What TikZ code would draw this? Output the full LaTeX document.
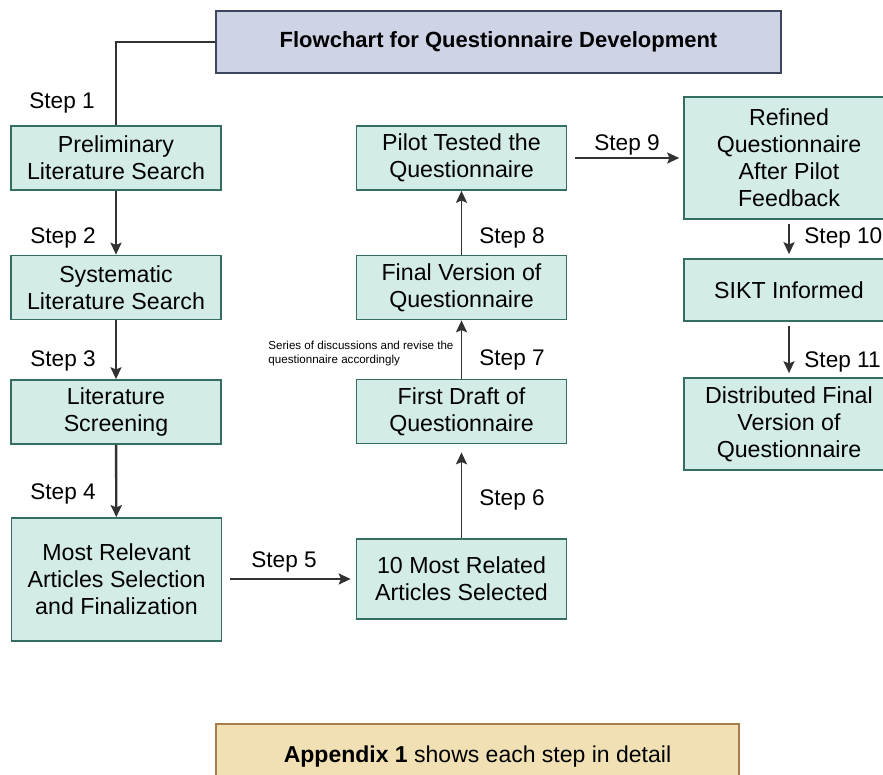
\documentclass[tikz,border=0pt]{standalone}
\usepackage{fontspec}
\setmainfont{Liberation Sans}
\usepackage{tikz}
\usetikzlibrary{arrows.meta,shapes,positioning}
\usepackage{xcolor}
\definecolor{qtfill}{RGB}{212,236,231}
\definecolor{qtdraw}{RGB}{52,110,98}
\definecolor{qttitlefill}{RGB}{206,211,230}
\definecolor{qttitledraw}{RGB}{60,70,95}
\definecolor{qtnotefill}{RGB}{240,224,180}
\definecolor{qtnotedraw}{RGB}{168,125,75}
\definecolor{qtline}{RGB}{50,50,50}
\tikzstyle{stepbox} = [rectangle, minimum width=105pt, minimum height=32pt, text centered, align=center, draw=qtdraw, fill=qtfill, line width=0.9pt, font=\fontsize{11.6}{13.5}\selectfont, inner sep=1pt]
\tikzstyle{titlebox} = [rectangle, minimum width=282.5pt, minimum height=31pt, text centered, draw=qttitledraw, fill=qttitlefill, line width=0.8pt, font=\fontsize{11}{13}\selectfont\bfseries]
\tikzstyle{notebox} = [rectangle, minimum width=261.5pt, minimum height=33pt, text centered, draw=qtnotedraw, fill=qtnotefill, line width=0.8pt, font=\fontsize{11.5}{13}\selectfont]
\tikzstyle{steplabel} = [inner sep=0pt, font=\fontsize{11.3}{13}\selectfont]
\tikzstyle{arrow} = [line width=0.75pt,-{Stealth[length=6pt,width=5.6pt,inset=1.2pt]},color=qtline]

\begin{document}
\begin{tikzpicture}[x=0.5pt, y=-0.5pt]
\useasboundingbox (0,0) rectangle (883,775);
\clip (0,0) rectangle (883,775);

% Title
\node[titlebox] (title) at (498.5,42) {Flowchart for Questionnaire Development};

% Left column
\node[stepbox] (prelim) at (116,158) {Preliminary\\Literature Search};
\node[stepbox] (system) at (116,287.5) {Systematic\\Literature Search};
\node[stepbox] (screen) at (116,412) {Literature\\Screening};
\node[stepbox, minimum height=61.5pt] (relevant) at (116.5,579.5) {Most Relevant\\Articles Selection\\and Finalization};

% Middle column
\node[stepbox, minimum height=40pt] (related) at (461.5,579) {10 Most Related\\Articles Selected};
\node[stepbox] (draft) at (461.5,411.5) {First Draft of\\Questionnaire};
\node[stepbox] (final) at (461.5,287.5) {Final Version of\\Questionnaire};
\node[stepbox] (pilot) at (461.5,158) {Pilot Tested the\\Questionnaire};

% Right column
\node[stepbox, minimum height=61pt] (refined) at (789,158) {Refined\\Questionnaire\\After Pilot\\Feedback};
\node[stepbox, minimum height=31pt] (sikt) at (789,290) {SIKT Informed};
\node[stepbox, minimum height=46pt] (distrib) at (789,424) {Distributed Final\\Version of\\Questionnaire};

% Appendix note
\node[notebox] (appendix) at (477.5,757) {\textbf{Appendix 1} shows each step in detail};

% Step labels
\node[steplabel] (l1) at (62,103) {Step 1};
\node[steplabel] (l2) at (63,238) {Step 2};
\node[steplabel] (l3) at (63,361) {Step 3};
\node[steplabel] (l4) at (63,494) {Step 4};
\node[steplabel] (l5) at (284,562) {Step 5};
\node[steplabel] (l6) at (512,500) {Step 6};
\node[steplabel] (l7) at (512,360) {Step 7};
\node[steplabel] (l8) at (512,238) {Step 8};
\node[steplabel] (l9) at (627,145) {Step 9};
\node[steplabel, anchor=west] (l10) at (804,238) {Step 10};
\node[steplabel, anchor=west] (l11) at (804,362) {Step 11};
\node[inner sep=0pt, anchor=west, align=left, font=\fontsize{5.8}{7}\selectfont] (revise) at (268,353) {Series of discussions and revise the\\questionnaire accordingly};

% Connectors
\draw[qtline, line width=0.75pt] (title.west) -| (prelim.north);
\draw[arrow] (prelim) -- (system);
\draw[arrow] (system) -- (screen);
\draw[arrow, line width=1.2pt] (screen) -- (relevant);
\draw[arrow, shorten <=4pt, shorten >=2.5pt] (relevant.east |- related) -- (related.west);
\draw[arrow, shorten >=4pt] (related) -- (draft);
\draw[arrow] (draft) -- (final);
\draw[arrow] (final) -- (pilot);
\draw[arrow, shorten <=4pt, shorten >=2pt] (pilot) -- (refined.west |- pilot);
\draw[arrow, shorten <=2pt, shorten >=2pt] (refined) -- (sikt);
\draw[arrow, shorten <=2pt, shorten >=2pt] (sikt) -- (distrib);
\end{tikzpicture}
\end{document}
